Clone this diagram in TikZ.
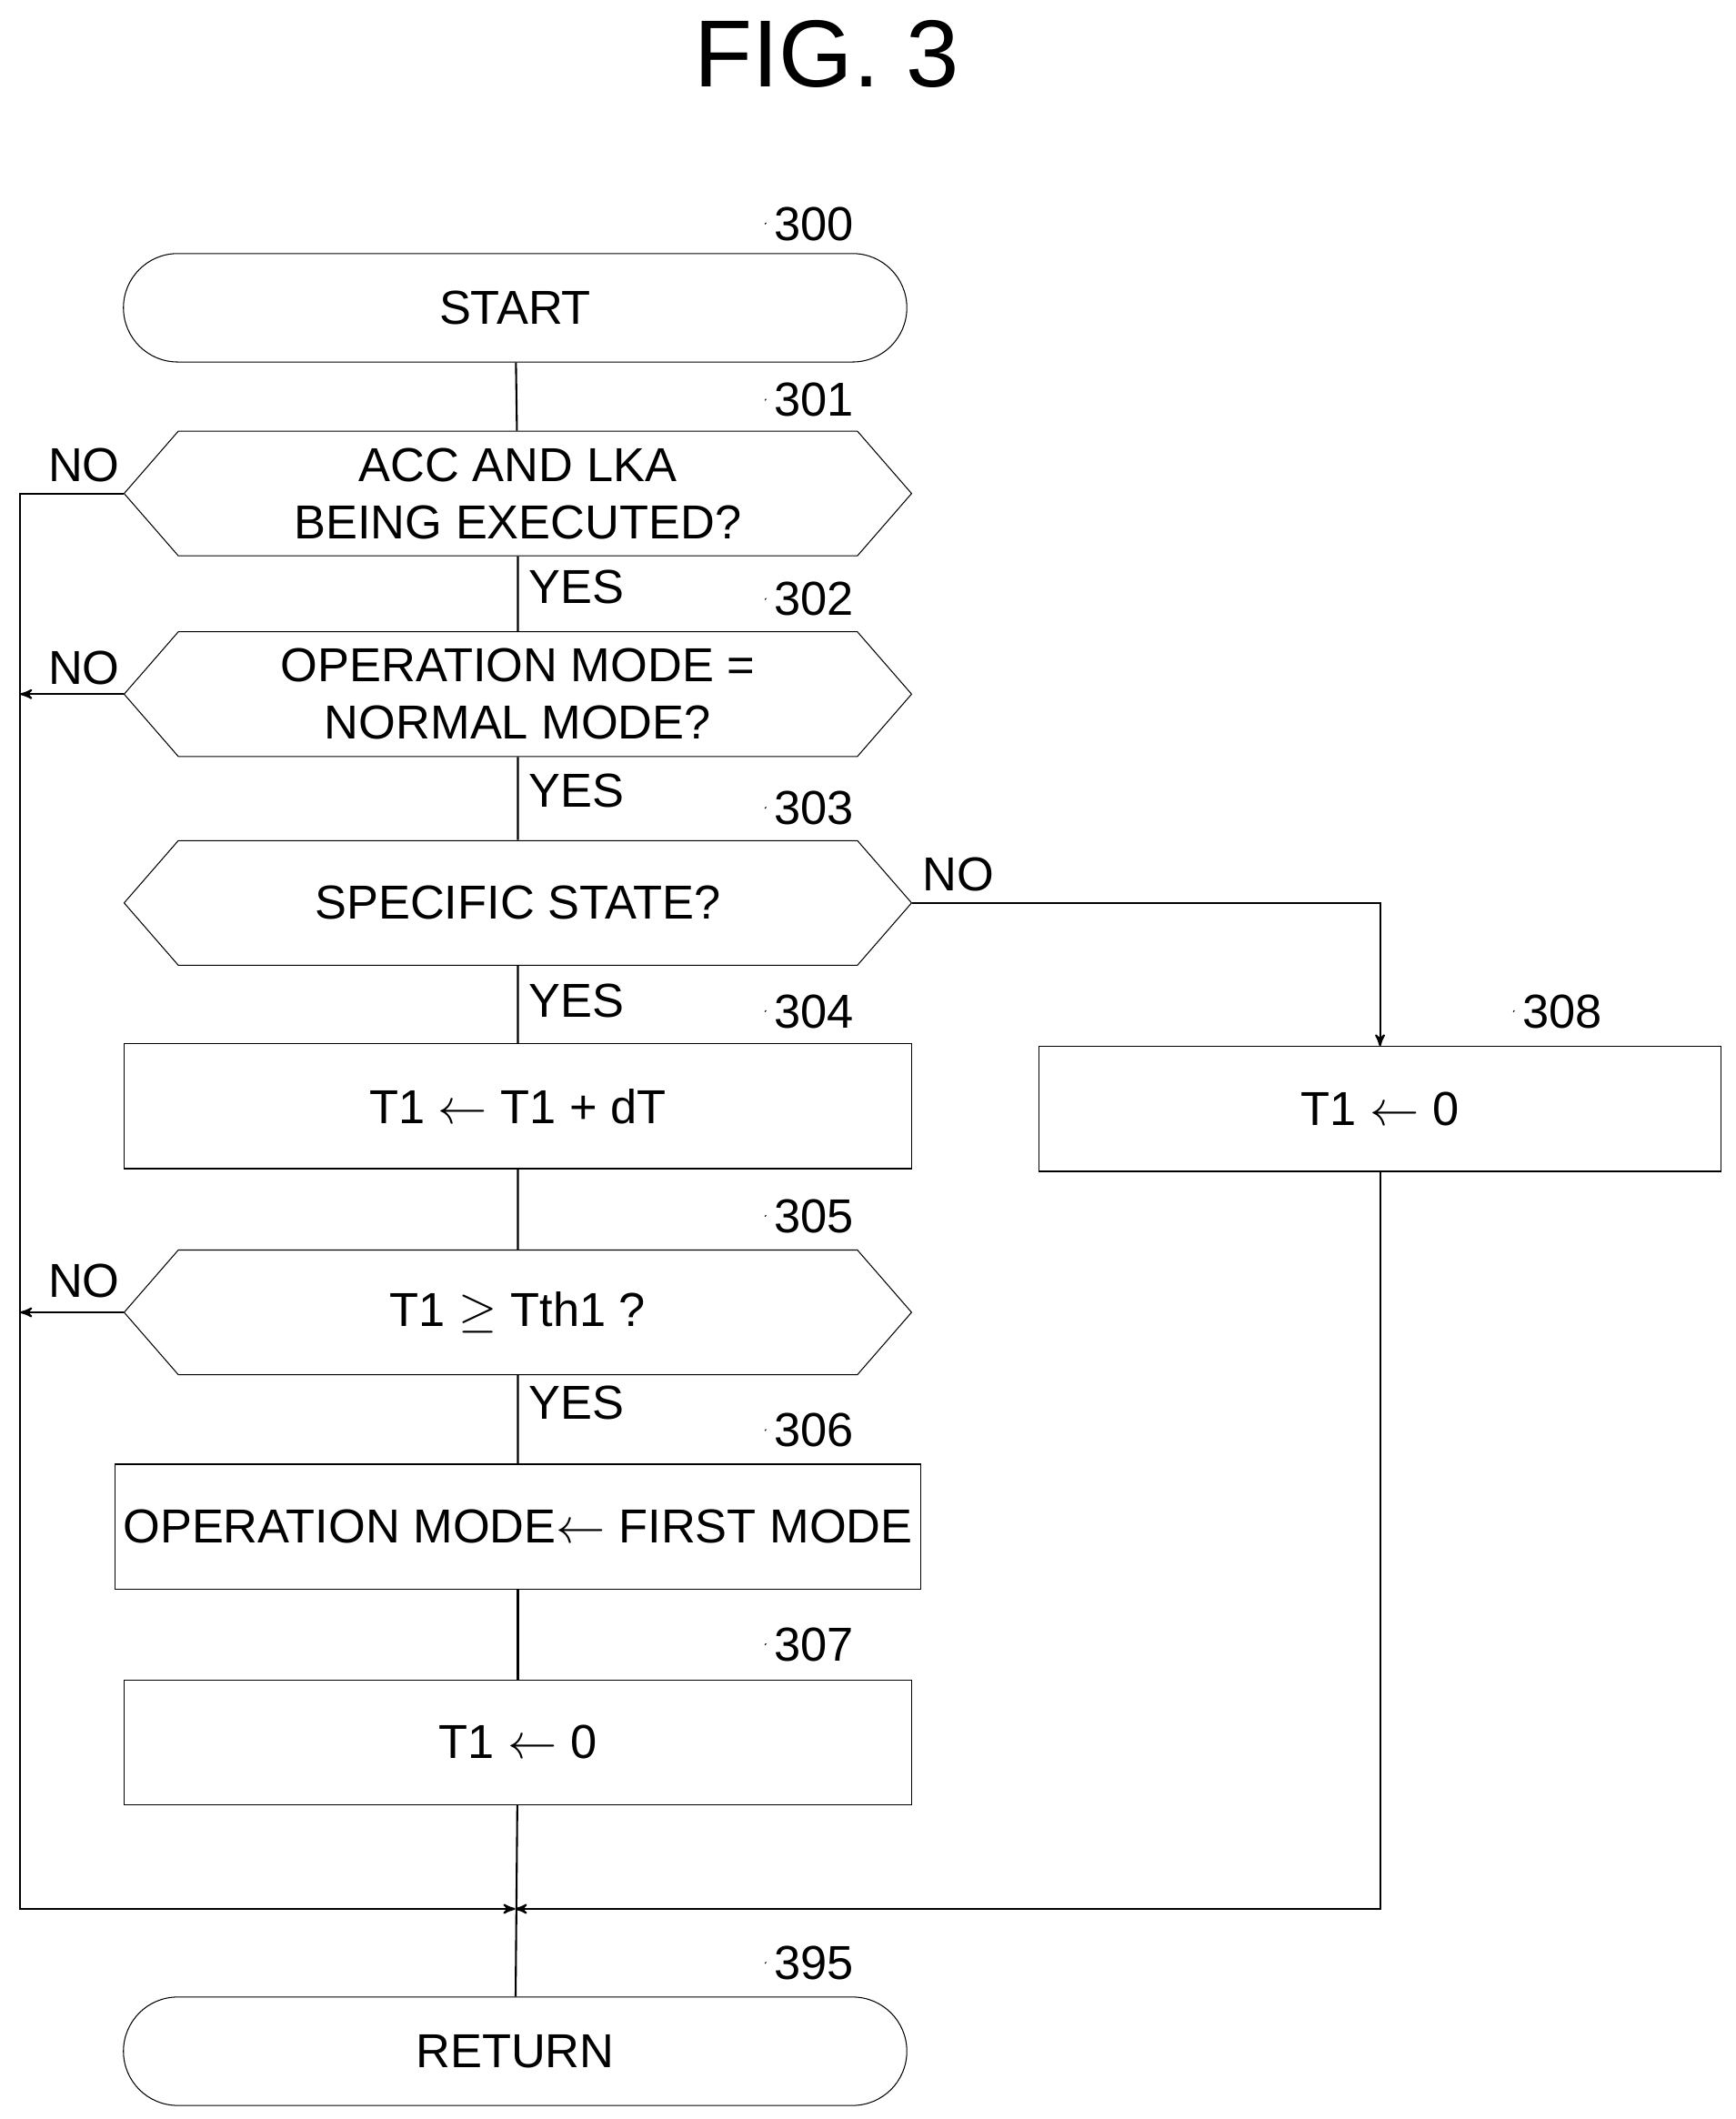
\documentclass[tikz,border=0pt]{standalone}
\usepackage{fontspec}
\setmainfont{Liberation Sans}
\usetikzlibrary{shapes,arrows,positioning,calc}

\tikzset{
  box/.style={draw, rectangle, minimum width=11.62cm, minimum height=1.84cm, font=\fontsize{20}{24}\selectfont},
  term/.style={box, rounded corners=0.8cm, minimum width=11.56cm, minimum height=1.6cm},
  hex/.style={draw, signal, signal to=west and east, signal pointer angle=98, minimum width=11.62cm, minimum height=1.84cm, inner xsep=0pt, font=\fontsize{20}{24}\selectfont, align=center},
  lab/.style={font=\fontsize{20}{24}\selectfont},
  flow/.style={line width=0.8pt},
  arr/.style={flow, ->, >=stealth'}
}
\newcommand{\steplabel}[3]{%
  \node[lab, anchor=west] (n#1) at (#2,#3) {#1};
  \draw[flow] (n#1.west) .. controls ($(n#1.west)+(-0.3,-0.02)$) and ($(n#1.west)+(-0.35,-0.35)$) .. ($(n#1.west)+(-0.6,-0.4)$);
}

\begin{document}
\begin{tikzpicture}[x=0.02cm, y=-0.02cm]
    \useasboundingbox (0,0) rectangle (1280,1563);
    \node[font=\fontsize{40}{48}\selectfont] (title) at (610,40) {FIG. 3};

    % main column
    \node[term] (s300) at (380,227) {START};
    \node[hex] (s301) at (382,364) {ACC AND LKA\\BEING EXECUTED?};
    \node[hex] (s302) at (382,512) {OPERATION MODE =\\NORMAL MODE?};
    \node[hex] (s303) at (382,666) {SPECIFIC STATE?};
    \node[box] (s304) at (382,816) {T1 $\leftarrow$ T1 + dT};
    \node[hex] (s305) at (382,968) {T1 $\geq$ Tth1 ?};
    \node[box] (s306) at (382,1126) {OPERATION MODE$\leftarrow$ FIRST MODE};
    \node[box] (s307) at (382,1285) {T1 $\leftarrow$ 0};
    \node[term] (s395) at (380,1513) {RETURN};
    \node[box, minimum width=10.06cm] (s308) at (1018,818) {T1 $\leftarrow$ 0};

    % step numbers
    \steplabel{300}{565}{165}
    \steplabel{301}{565}{295}
    \steplabel{302}{565}{442}
    \steplabel{303}{565}{596}
    \steplabel{304}{565}{746}
    \steplabel{305}{565}{897}
    \steplabel{306}{565}{1055}
    \steplabel{307}{565}{1213}
    \steplabel{308}{1117}{746}
    \steplabel{395}{565}{1448}

    % junction
    \coordinate (j) at (380,1408);
    \coordinate (ll) at (15,1408);
    \coordinate (rr) at (1018,1408);

    % vertical flow
    \draw[flow] (s300) -- (s301);
    \draw[flow] (s301) -- (s302);
    \draw[flow] (s302) -- (s303);
    \draw[flow] (s303) -- (s304);
    \draw[flow] (s304) -- (s305);
    \draw[flow] (s305) -- (s306);
    \draw[flow] (s306) -- (s307);
    \draw[flow] (s307) -- (s395);

    % YES labels
    \node[lab] (y301) at (425,433) {YES};
    \node[lab] (y302) at (425,583) {YES};
    \node[lab] (y303) at (425,738) {YES};
    \node[lab] (y305) at (425,1035) {YES};

    % NO branches
    \node[lab] (n301) at (62,343) {NO};
    \node[lab] (n302) at (62,493) {NO};
    \node[lab] (n303) at (707,645) {NO};
    \node[lab] (n305) at (62,945) {NO};
    \draw[arr] (s301.west) -- (15,364) -- (ll) -- (j);
    \draw[arr] (s302.west) -- (15,512);
    \draw[arr] (s305.west) -- (15,968);
    \draw[arr] (s303.east) -| (s308.north);
    \draw[arr] (s308.south) -- (rr) -- (j);
\end{tikzpicture}
\end{document}
